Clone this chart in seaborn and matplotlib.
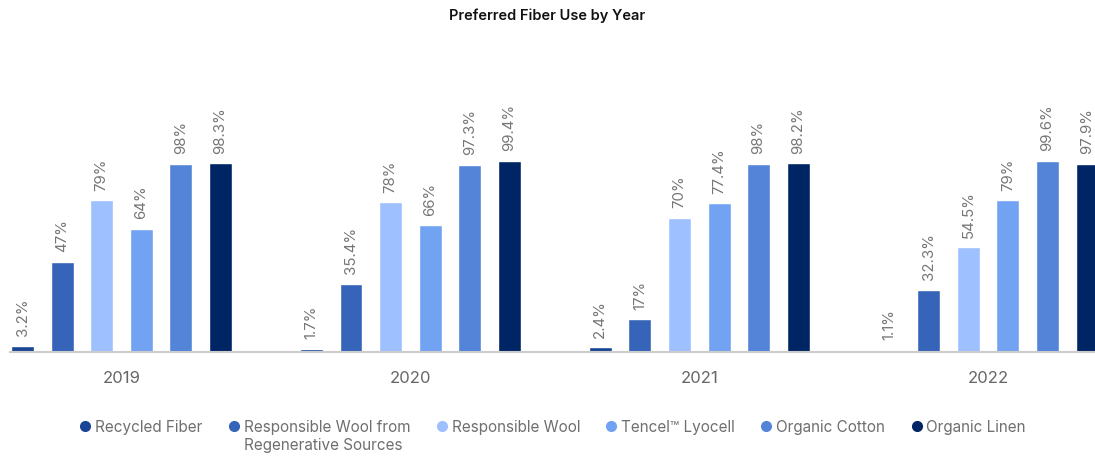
import matplotlib
matplotlib.use("Agg")
import matplotlib.pyplot as plt
from matplotlib.lines import Line2D
from matplotlib.offsetbox import HPacker
import seaborn as sns
import pandas as pd

years = ["2019", "2020", "2021", "2022"]
fibers = [
    "Recycled Fiber",
    "Responsible Wool from\nRegenerative Sources",
    "Responsible Wool",
    "Tencel™ Lyocell",
    "Organic Cotton",
    "Organic Linen",
]
recycled_fiber = [3.2, 1.7, 2.4, 1.1]
regen_wool = [47, 35.4, 17, 32.3]
responsible_wool = [79, 78, 70, 54.5]
tencel_lyocell = [64, 66, 77.4, 79]
organic_cotton = [98, 97.3, 98, 99.6]
organic_linen = [98.3, 99.4, 98.2, 97.9]
colors = ["#1a4595", "#3564b8", "#9ec0ff", "#72a2f2", "#5484d8", "#002565"]

series = [recycled_fiber, regen_wool, responsible_wool, tencel_lyocell,
          organic_cotton, organic_linen]
rows = []
for fiber, vals in zip(fibers, series):
    for yr, v in zip(years, vals):
        rows.append({"Year": yr, "Fiber": fiber, "Share": v})
df = pd.DataFrame(rows)

sns.set_theme(style="white")
plt.rcParams["font.family"] = ["Inter", "DejaVu Sans"]

fig = plt.figure(figsize=(10.95, 4.58), dpi=100)
ax = fig.add_axes([10 / 1095, 106 / 458, 1085 / 1095, 288 / 458])

sns.barplot(data=df, x="Year", y="Share", hue="Fiber", order=years,
            hue_order=fibers, palette=colors, width=0.822, gap=0.42,
            saturation=1, errorbar=None, legend=False, ax=ax)

for cont, vals in zip(ax.containers, series):
    ax.bar_label(cont, labels=[f"{v:g}%" for v in vals], rotation=90,
                 padding=7, color="#767676", fontsize=10.8)

ax.set_ylim(0, 150)
ax.set_xlim(-0.386, 3.37)
ax.set_xlabel("")
ax.set_ylabel("")
ax.set_yticks([])
for s in ["top", "left", "right"]:
    ax.spines[s].set_visible(False)
ax.spines["bottom"].set_color("#cccccc")
ax.spines["bottom"].set_linewidth(1.5)
ax.tick_params(axis="x", length=0, pad=14, labelsize=12, labelcolor="#666666")

handles = [Line2D([], [], marker="o", linestyle="none", markersize=7,
                  markerfacecolor=c, markeredgecolor=c) for c in colors]
leg = fig.legend(handles, fibers, loc="upper center", ncol=6,
                 bbox_to_anchor=(0.506, 0.112), frameon=False,
                 fontsize=11, handlelength=0.4, handletextpad=0.45,
                 columnspacing=1.85, labelcolor="#6f6f6f")

# align legend entries on the first line of the two-line label
def _top_align(box):
    if isinstance(box, HPacker):
        box.align = "top"
    for child in box.get_children():
        if hasattr(child, "get_children"):
            _top_align(child)

_top_align(leg._legend_handle_box)

fig.suptitle("Preferred Fiber Use by Year", y=0.982, fontsize=10.5,
             fontweight="semibold", color="#111111")

fig.savefig("out.png", dpi=100)
